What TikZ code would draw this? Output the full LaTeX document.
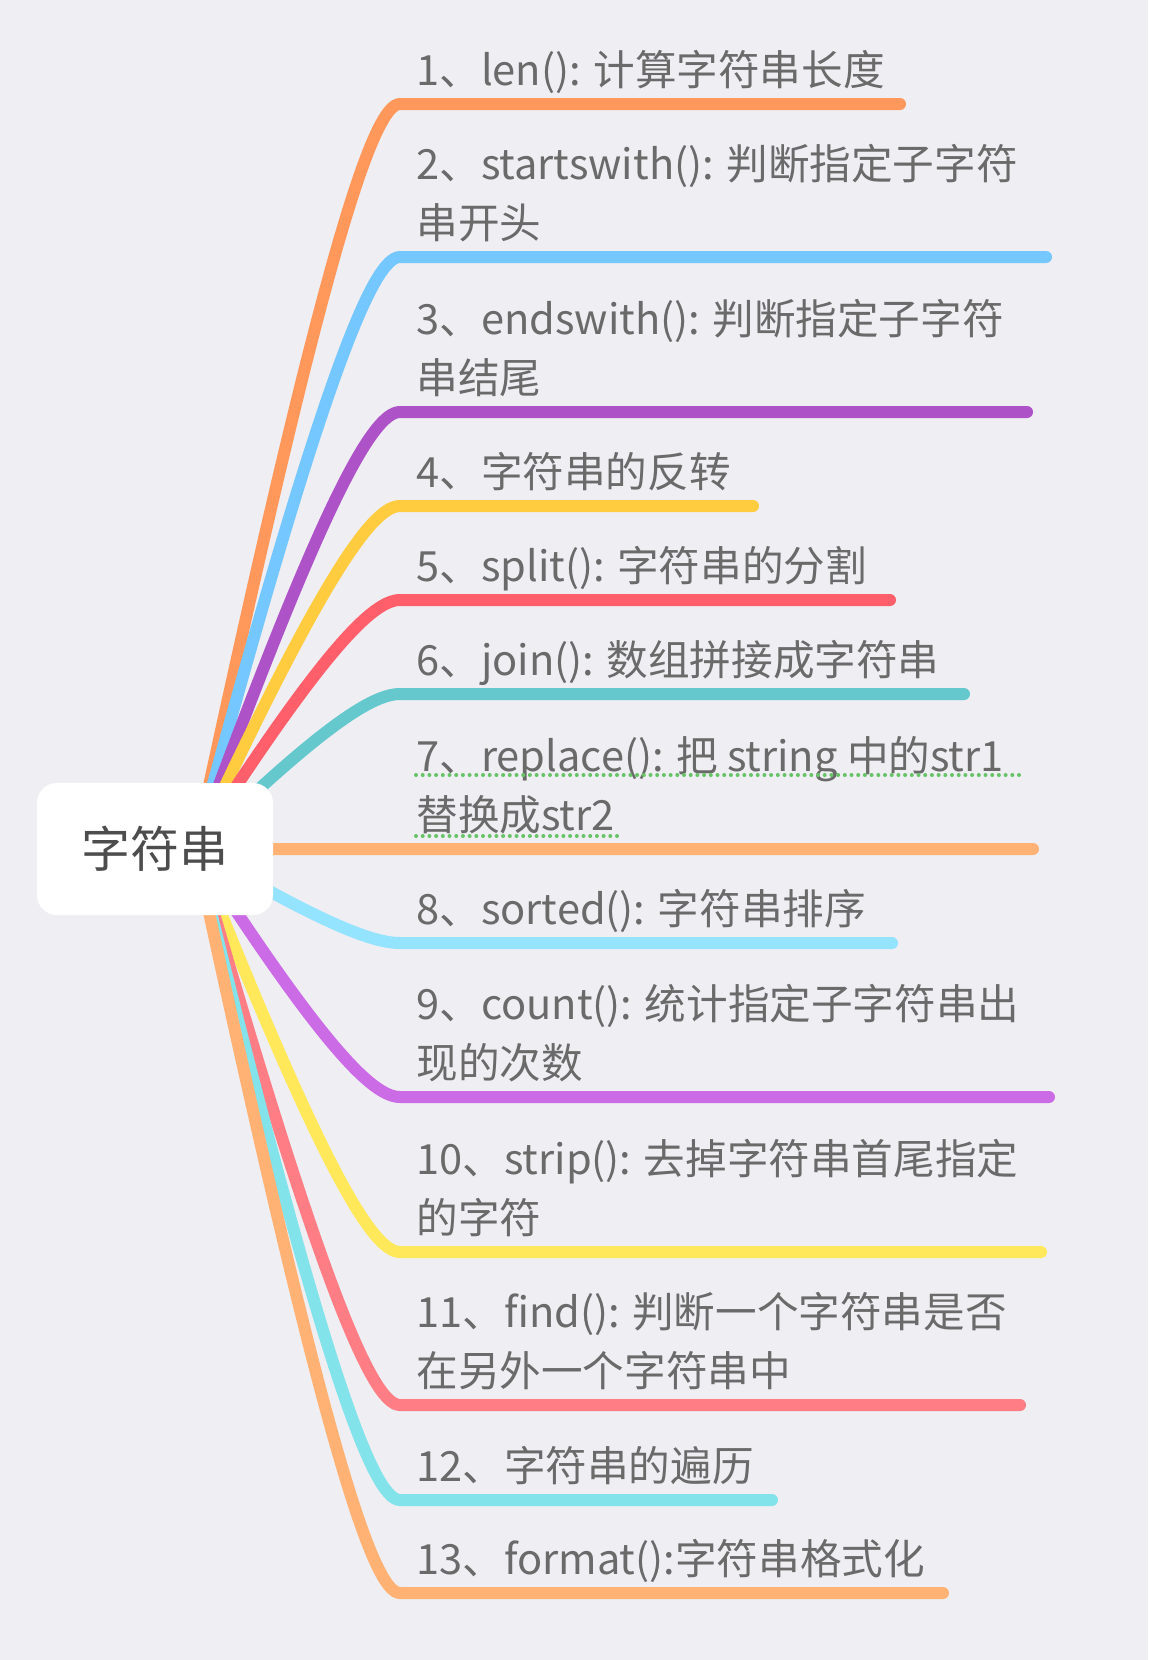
\documentclass[tikz,border=0pt]{standalone}
\usepackage{fontspec}
\setmainfont{Noto Sans CJK SC}
\usetikzlibrary{calc}

\definecolor{paper}{HTML}{EFEEF3}
\definecolor{inkroot}{HTML}{4D4D4D}
\definecolor{inkleaf}{HTML}{6A6A6A}
\definecolor{spellgreen}{HTML}{66C466}
\definecolor{c1}{HTML}{FF985A}
\definecolor{c2}{HTML}{74C7FF}
\definecolor{c3}{HTML}{AE52C8}
\definecolor{c4}{HTML}{FFCC3F}
\definecolor{c5}{HTML}{FF5F6B}
\definecolor{c6}{HTML}{64C8CD}
\definecolor{c7}{HTML}{FFB273}
\definecolor{c8}{HTML}{94E3FF}
\definecolor{c9}{HTML}{CB6CE6}
\definecolor{c10}{HTML}{FFE95A}
\definecolor{c11}{HTML}{FF7D85}
\definecolor{c12}{HTML}{82E3EA}
\definecolor{c13}{HTML}{FFB273}

\pgfdeclarelayer{paperlayer}
\pgfdeclarelayer{links}
\pgfsetlayers{paperlayer,links,main}

\begin{document}
\begin{tikzpicture}[
    x=0.5pt, y=-0.5pt,
    root/.style={fill=white, rounded corners=10pt, minimum width=118pt,
                 minimum height=66pt, text=inkroot,
                 font=\fontsize{24.5}{29}\selectfont},
    leaf/.style={anchor=base west, inner sep=0pt, align=left, text=inkleaf,
                 font=\fontsize{20.8}{29.5}\selectfont},
    link/.style={draw=#1, line width=6pt, line cap=round},
    spell/.style={draw=spellgreen, line width=2pt, line cap=round,
                  dash pattern=on 0pt off 3.35pt},
]
\begin{pgfonlayer}{paperlayer}
\fill[paper] (0,0) rectangle (1148,1660);
\end{pgfonlayer}
\useasboundingbox (0,0) rectangle (1148,1660);

\node[root] (root) at (155,849) {字符串};
\coordinate (hub) at ([xshift=-39pt]root.east);

% branches: number / line y / line end x / colour / text
\foreach \i/\y/\xe/\col/\txt in {
    1/104/900/c1/{1、len(): 计算字符串长度},
    2/257/1046/c2/{2、startswith(): 判断指定子字符\\串开头},
    3/412/1027/c3/{3、endswith(): 判断指定子字符\\串结尾},
    4/506/753/c4/{4、字符串的反转},
    5/600/890/c5/{5、split(): 字符串的分割},
    6/694/964/c6/{6、join(): 数组拼接成字符串},
    7/849/1033/c7/{7、replace(): 把 string 中的str1\\替换成str2},
    8/943/892/c8/{8、sorted(): 字符串排序},
    9/1097/1049/c9/{9、count(): 统计指定子字符串出\\现的次数},
    10/1252/1041/c10/{10、strip(): 去掉字符串首尾指定\\的字符},
    11/1405/1020/c11/{11、find(): 判断一个字符串是否\\在另外一个字符串中},
    12/1500/772/c12/{12、字符串的遍历},
    13/1593/943/c13/{13、format():字符串格式化}} {
    \node[leaf] (t\i) at (416,\y-19) {\txt};
    \coordinate (e\i) at (\xe,\y);
    \begin{pgfonlayer}{links}
    \draw[link=\col] (hub) .. controls ($(hub)!0.8!(355,\y)$) and (373,\y)
        .. (400,\y) -- (e\i);
    \end{pgfonlayer}
}

% spell-check marks under branch 7
\draw[spell] (416,775) -- (1020,775);
\draw[spell] (416,836) -- (622,836);
\end{tikzpicture}
\end{document}
